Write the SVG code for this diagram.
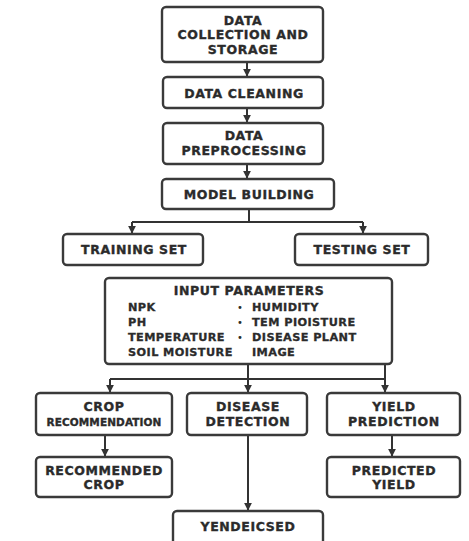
<svg xmlns="http://www.w3.org/2000/svg" width="469" height="541" viewBox="0 0 469 541">
<style>
.box{fill:#fff;stroke:#3a3a3a;stroke-width:2.4}
.t{font-family:"DejaVu Sans",sans-serif;font-weight:bold;font-size:12.5px;fill:#2b2b2b;stroke:#2b2b2b;stroke-width:0.35px;text-anchor:middle;letter-spacing:0.6px}
.s{font-family:"DejaVu Sans",sans-serif;font-weight:bold;font-size:11.3px;fill:#2b2b2b;stroke:#2b2b2b;stroke-width:0.3px;letter-spacing:0.4px}
.d{font-family:"DejaVu Sans",sans-serif;font-size:10px;fill:#2b2b2b}
.c{fill:none;stroke:#333;stroke-width:2}
</style>
<defs>
<marker id="ah" viewBox="0 0 10 10" refX="9" refY="5" markerWidth="4" markerHeight="4" orient="auto" markerUnits="strokeWidth">
<path d="M0,0 L10,5 L0,10 z" fill="#333"/>
</marker>
</defs>
<rect width="469" height="541" fill="#fff"/>
<g id="connectors">
<path class="c" d="M247,62 V76" marker-end="url(#ah)"/>
<path class="c" d="M247,108 V122" marker-end="url(#ah)"/>
<path class="c" d="M247,164 V178" marker-end="url(#ah)"/>
<path class="c" d="M249,209 V222"/>
<path class="c" d="M132,222 H363"/>
<path class="c" d="M132,222 V233" marker-end="url(#ah)"/>
<path class="c" d="M363,222 V233" marker-end="url(#ah)"/>
<path class="c" d="M248,364 V392" marker-end="url(#ah)"/>
<path class="c" d="M385,364 V392" marker-end="url(#ah)"/>
<path class="c" d="M110,379 H385"/>
<path class="c" d="M110,379 V392" marker-end="url(#ah)"/>
<path class="c" d="M105,435 V456" marker-end="url(#ah)"/>
<path class="c" d="M392,435 V456" marker-end="url(#ah)"/>
<path class="c" d="M248,435 V510" marker-end="url(#ah)"/>
</g>
<g id="data-collection">
<rect class="box" x="162" y="7" width="161" height="55" rx="4"/>
<text class="t" x="243" y="25">DATA</text>
<text class="t" x="243" y="39">COLLECTION AND</text>
<text class="t" x="243" y="53.5">STORAGE</text>
</g>
<g id="data-cleaning">
<rect class="box" x="163" y="77" width="160" height="31" rx="4"/>
<text class="t" x="244" y="98">DATA CLEANING</text>
</g>
<g id="data-preprocessing">
<rect class="box" x="163" y="123" width="160" height="41" rx="4"/>
<text class="t" x="244" y="140">DATA</text>
<text class="t" x="244" y="155">PREPROCESSING</text>
</g>
<g id="model-building">
<rect class="box" x="162" y="179" width="172" height="30" rx="4"/>
<text class="t" x="249" y="199">MODEL BUILDING</text>
</g>
<g id="training-set">
<rect class="box" x="63" y="234" width="140" height="31" rx="4"/>
<text class="t" x="134" y="254">TRAINING SET</text>
</g>
<g id="testing-set">
<rect class="box" x="295" y="234" width="133" height="31" rx="4"/>
<text class="t" x="362" y="254">TESTING SET</text>
</g>
<g id="input-parameters">
<rect class="box" x="105" y="278" width="287" height="86" rx="4"/>
<text class="t" x="249" y="295">INPUT PARAMETERS</text>
<text class="s" x="128" y="311">NPK</text>
<text class="s" x="128" y="326">PH</text>
<text class="s" x="128" y="341">TEMPERATURE</text>
<text class="s" x="128" y="356">SOIL MOISTURE</text>
<text class="d" x="237" y="311">•</text>
<text class="d" x="237" y="326">•</text>
<text class="d" x="237" y="341">•</text>
<text class="s" x="252" y="311">HUMIDITY</text>
<text class="s" x="252" y="326">TEM PIOISTURE</text>
<text class="s" x="252" y="341">DISEASE PLANT</text>
<text class="s" x="252" y="356">IMAGE</text>
</g>
<g id="crop-recommendation">
<rect class="box" x="36" y="393" width="136" height="42" rx="4"/>
<text class="t" x="104" y="411">CROP</text>
<text class="t" x="104" y="426" style="font-size:10.5px;letter-spacing:0.1px">RECOMMENDATION</text>
</g>
<g id="disease-detection">
<rect class="box" x="187" y="393" width="120" height="42" rx="4"/>
<text class="t" x="248" y="411">DISEASE</text>
<text class="t" x="248" y="426">DETECTION</text>
</g>
<g id="yield-prediction">
<rect class="box" x="327" y="393" width="133" height="42" rx="4"/>
<text class="t" x="394" y="411">YIELD</text>
<text class="t" x="394" y="426">PREDICTION</text>
</g>
<g id="recommended-crop">
<rect class="box" x="36" y="457" width="136" height="40" rx="4"/>
<text class="t" x="104" y="475">RECOMMENDED</text>
<text class="t" x="104" y="489">CROP</text>
</g>
<g id="predicted-yield">
<rect class="box" x="327" y="457" width="133" height="40" rx="4"/>
<text class="t" x="394" y="475">PREDICTED</text>
<text class="t" x="394" y="489">YIELD</text>
</g>
<g id="yendeicsed">
<rect class="box" x="173" y="511" width="150" height="40" rx="4"/>
<text class="t" x="248" y="531">YENDEICSED</text>
</g>
</svg>
